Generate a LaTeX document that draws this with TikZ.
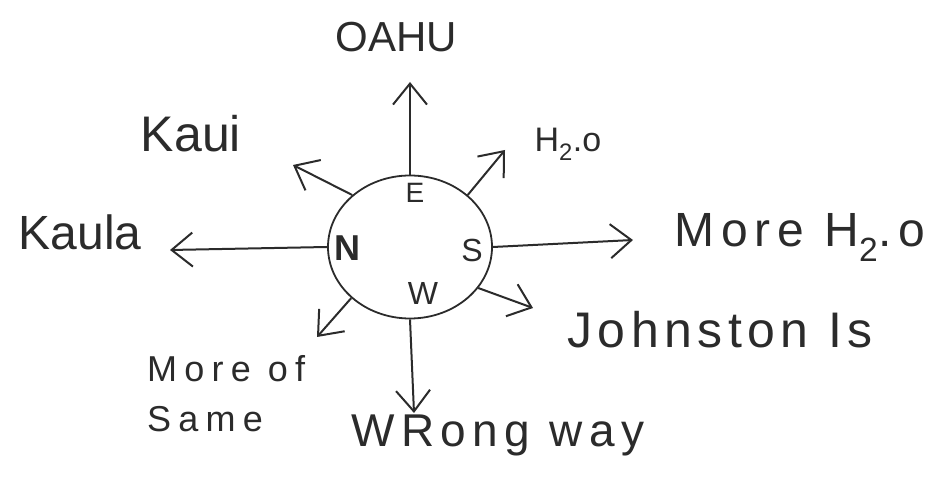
\documentclass[tikz,border=0pt]{standalone}
\usepackage{fontspec}
\setmainfont{Liberation Sans}
\usetikzlibrary{arrows.meta, positioning, shapes.geometric}
\definecolor{ink}{HTML}{2B2B2B}

\begin{document}
\begin{tikzpicture}[x=1pt, y=1pt,
        ray/.style={draw=ink, line width=2pt, -{Straight Barb[length=21pt, width=34pt, line width=2pt]}},
        place/.style={text=ink, inner sep=0pt, anchor=base},
        point/.style={text=ink, inner sep=0pt}]
        \useasboundingbox (0,0) rectangle (940,489);

        % Compass
        \node[ellipse, draw=ink, line width=1.8pt, minimum width=164pt, minimum height=143pt] (compass) at (410,242) {};
        \node[point, font=\fontsize{28}{30}\selectfont] (east) at (415,296) {E};
        \node[point, font=\fontsize{36}{38}\selectfont\bfseries] (north) at (347,241) {N};
        \node[point, font=\fontsize{32}{34}\selectfont] (south) at (472,239) {S};
        \node[point, font=\fontsize{32}{34}\selectfont] (west) at (423,196) {W};

        % Arrow ends
        \coordinate (oahuEnd) at (410,407);
        \coordinate (waterEnd) at (505,339);
        \coordinate (kauiEnd) at (293,324);
        \coordinate (kaulaEnd) at (170,239);
        \coordinate (moreEnd) at (633,249);
        \coordinate (johnstonEnd) at (533,181);
        \coordinate (wrongEnd) at (414,76);
        \coordinate (sameEnd) at (317,152);

        % Arrows
        \draw[ray] (compass.90) -- (oahuEnd);
        \draw[ray] (compass.42) -- (waterEnd);
        \draw[ray] (compass.138) -- (kauiEnd);
        \draw[ray] (compass.180) -- (kaulaEnd);
        \draw[ray] (compass.0) -- (moreEnd);
        \draw[ray] (compass.-31) -- (johnstonEnd);
        \draw[ray] (compass.270) -- (wrongEnd);
        \draw[ray] (compass.221) -- (sameEnd);

        % Labels
        \node[place, font=\fontsize{42}{44}\selectfont] (oahu) at (396,437) {OAHU};
        \node[place, font=\fontsize{50}{52}\selectfont] (kaui) at (191,337) {Kaui};
        \node[place, font=\fontsize{48}{50}\selectfont] (kaula) at (80,239) {Kaula};
        \node[place, font=\fontsize{34}{36}\selectfont] (water) at (568,337) {H\textsubscript{2}.o};
        \node[place, font=\fontsize{48}{50}\selectfont\addfontfeatures{LetterSpace=14}] (more) at (800,242) {More H\textsubscript{2}.o};
        \node[place, font=\fontsize{50}{52}\selectfont\addfontfeatures{LetterSpace=11}] (johnston) at (720,141) {Johnston Is};
        \node[text=ink, inner sep=0pt, anchor=north west, align=left, font=\fontsize{36}{50}\selectfont\addfontfeatures{LetterSpace=20}] (same) at (147,134) {More of\\Same};
        \node[place, font=\fontsize{46}{48}\selectfont\addfontfeatures{LetterSpace=14}] (wrong) at (498,42) {WRong way};
\end{tikzpicture}
\end{document}
